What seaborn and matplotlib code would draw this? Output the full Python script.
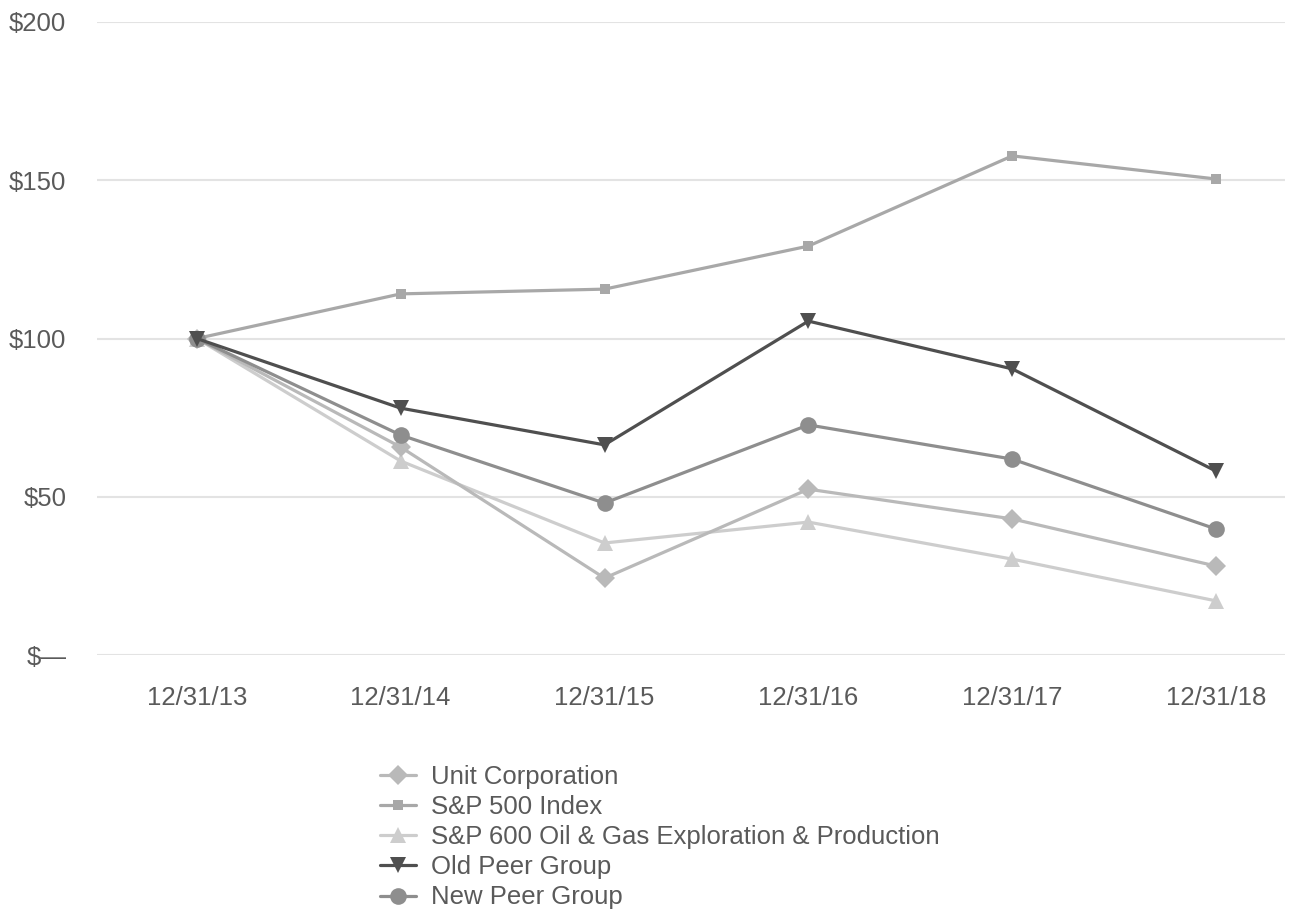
import pandas as pd
import matplotlib.pyplot as plt
import seaborn as sns

sns.set_theme(style="white")
plt.rcParams['font.family'] = ['Liberation Sans', 'DejaVu Sans']

# Data
dates = ['12/31/13', '12/31/14', '12/31/15', '12/31/16', '12/31/17', '12/31/18']
unit_corp = [100, 65.7, 24.3, 52.4, 43.0, 28.1]
sp500 = [100, 114.1, 115.6, 129.2, 157.7, 150.4]
sp600_oil_gas = [100, 61.3, 35.4, 42.0, 30.3, 17.1]
old_peer = [100, 78.0, 66.4, 105.5, 90.4, 58.1]
new_peer = [100, 69.5, 48.0, 72.7, 61.9, 39.8]

series_names = ['Unit Corporation', 'S&P 500 Index',
                'S&P 600 Oil & Gas Exploration & Production',
                'Old Peer Group', 'New Peer Group']
series_values = [unit_corp, sp500, sp600_oil_gas, old_peer, new_peer]

colors = {'Unit Corporation': '#b9b9b9', 'S&P 500 Index': '#a8a8a8',
          'S&P 600 Oil & Gas Exploration & Production': '#cdcdcd',
          'Old Peer Group': '#4f4f4f', 'New Peer Group': '#8e8e8e'}
markers = {'Unit Corporation': 'D', 'S&P 500 Index': 's',
           'S&P 600 Oil & Gas Exploration & Production': '^',
           'Old Peer Group': 'v', 'New Peer Group': 'o'}
msizes = {'Unit Corporation': 10, 'S&P 500 Index': 7,
          'S&P 600 Oil & Gas Exploration & Production': 11,
          'Old Peer Group': 12, 'New Peer Group': 12}

rows = []
for name, vals in zip(series_names, series_values):
    for i, v in enumerate(vals):
        rows.append({'Series': name, 'pos': i, 'Value': v})
data = pd.DataFrame(rows)

fig = plt.figure(figsize=(13.09, 9.09), dpi=100)
ax = fig.add_axes([0.074, 0.2794, 0.908, 0.6964])

# draw in an order so the darker lines sit on top
draw_order = ['S&P 600 Oil & Gas Exploration & Production', 'Unit Corporation',
              'S&P 500 Index', 'New Peer Group', 'Old Peer Group']
for name in draw_order:
    sub = data[data['Series'] == name]
    sns.lineplot(data=sub, x='pos', y='Value', ax=ax, color=colors[name],
                 marker=markers[name], markersize=msizes[name],
                 markeredgewidth=0, linewidth=2.3, label=name, legend=False)

ax.set_xlim(-0.49, 5.34)
ax.set_ylim(0, 200)
ax.set_xticks(range(len(dates)))
ax.set_xticklabels(dates)
ax.set_yticks([0, 50, 100, 150, 200])
ax.set_yticklabels(['$\u2014', '$50', '$100', '$150', '$200'])
ax.grid(axis='y', color='#e3e3e3', linewidth=1.5)
ax.set_axisbelow(True)
for s in ax.spines.values():
    s.set_visible(False)
ax.tick_params(axis='both', length=0, labelsize=18.5, labelcolor='#5a5a5a')
ax.tick_params(axis='x', pad=22)
ax.tick_params(axis='y', pad=22)
ax.set_xlabel('')
ax.set_ylabel('')

handles, labels = ax.get_legend_handles_labels()
lookup = dict(zip(labels, handles))
leg = fig.legend([lookup[n] for n in series_names], series_names,
                 loc='upper left', bbox_to_anchor=(0.290, 0.1586),
                 frameon=False, fontsize=18.5, labelcolor='#5a5a5a',
                 handlelength=1.4, handletextpad=0.6, labelspacing=0.24,
                 borderaxespad=0, borderpad=0)

fig.savefig('out.png', dpi=100)
